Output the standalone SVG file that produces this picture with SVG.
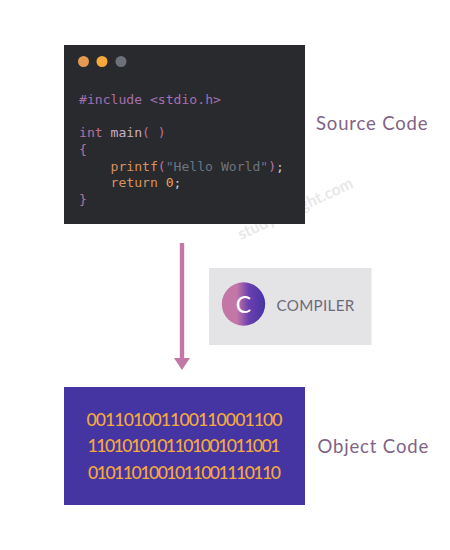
<svg xmlns="http://www.w3.org/2000/svg" width="450" height="550" viewBox="0 0 450 550">
<style>
.code{font-family:"DejaVu Sans Mono","Liberation Mono",monospace;font-size:13.1px}
.lbl{font-family:"Lato","Open Sans",sans-serif;font-size:18.5px;fill:#7f6385;letter-spacing:.85px}
.bin{font-family:"Lato","Open Sans",sans-serif;font-size:17.6px;font-weight:500;fill:#f4a93d}
.pk{fill:#b9709f}.pl{fill:#a56fb0}.or{fill:#d9925f}.gr{fill:#6d7480}
</style>
<defs>
<linearGradient id="g" x1="0" x2="1" y1="0" y2="0">
<stop offset="0" stop-color="#c277a6"/><stop offset=".35" stop-color="#c277a6"/><stop offset=".62" stop-color="#6a3fae"/><stop offset="1" stop-color="#4535a5"/>
</linearGradient>
</defs>
<rect width="450" height="550" fill="#fff"/>
<text x="241" y="240" transform="rotate(-25 241 240)" font-family="Lato,'Open Sans',sans-serif" font-size="16" font-weight="700" fill="#e8e8e8">studytonight.com</text>
<g id="source">
<rect x="64" y="45" width="241" height="179" fill="#292a2d"/>
<circle cx="83.500" cy="61.500" r="5.500" fill="#e49a52"/>
<circle cx="102" cy="61.500" r="5.500" fill="#f9a93c"/>
<circle cx="121" cy="61.500" r="5.500" fill="#6b7079"/>
<text class="code pl" x="79" y="103.500">#include &lt;stdio.h&gt;</text>
<text class="code" x="79" y="137"><tspan class="pk">int</tspan><tspan fill="#c9b0c4"> main</tspan><tspan class="pk">( )</tspan></text>
<text class="code pk" x="79" y="153.500">{</text>
<text class="code" x="110.500" y="170.500"><tspan class="or">printf</tspan><tspan class="pk">(</tspan><tspan class="gr">"Hello World"</tspan><tspan class="pk">)</tspan><tspan fill="#c9c9d0">;</tspan></text>
<text class="code" x="110.500" y="187"><tspan class="or">return</tspan> <tspan fill="#e9a45a">0</tspan><tspan fill="#c9c9d0">;</tspan></text>
<text class="code pk" x="79" y="203.500">}</text>
<text class="lbl" x="316" y="129.500">Source Code</text>
</g>
<g id="connectors">
<line x1="182" y1="243" x2="182" y2="360" stroke="#c277a6" stroke-width="4.400"/>
<path d="M174 358H190L182 370Z" fill="#c277a6"/>
</g>
<g id="compiler">
<rect x="209" y="268" width="162.500" height="77" fill="#e4e3e5"/>
<circle cx="243.500" cy="304" r="21.700" fill="url(#g)"/>
<text x="243.500" y="313" font-family="Lato,'Open Sans',sans-serif" font-size="23" fill="#fff" text-anchor="middle">C</text>
<text x="276.500" y="311" font-family="Lato,'Open Sans',sans-serif" font-size="15.200" fill="#6c6a7b" letter-spacing=".3">COMPILER</text>
</g>
<g id="object">
<rect x="64" y="387" width="241" height="118" fill="#4535a3"/>
<text class="bin" x="86.500" y="426" textLength="196" lengthAdjust="spacing">001101001100110001100</text>
<text class="bin" x="87.500" y="452" textLength="193" lengthAdjust="spacing">1101010101101001011001</text>
<text class="bin" x="88" y="478.500" textLength="193" lengthAdjust="spacing">0101101001011001110110</text>
<text class="lbl" x="317.500" y="452.500">Object Code</text>
</g>
</svg>
